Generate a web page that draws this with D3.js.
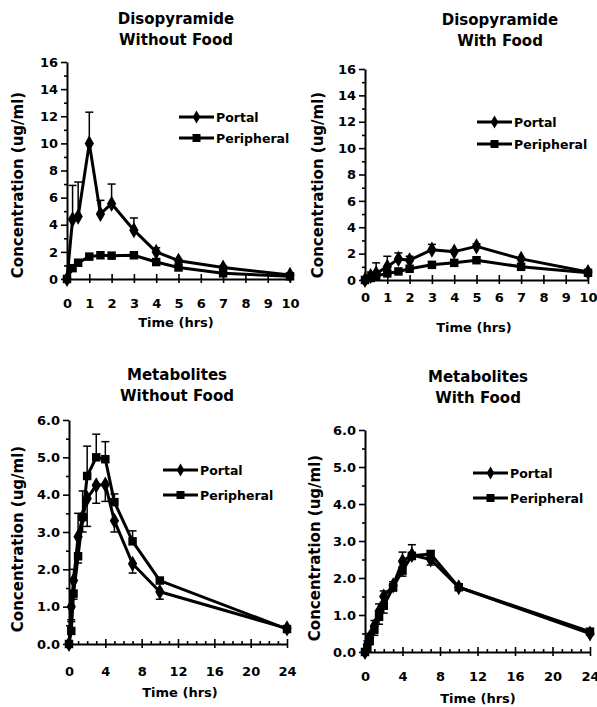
<!DOCTYPE html>
<html>
<head>
<meta charset="utf-8">
<script src="https://cdn.jsdelivr.net/npm/d3@7"></script>
<style>
  html, body { margin: 0; padding: 0; background: #fff; }
  svg { display: block; }
  text { font-family: "DejaVu Sans", "Liberation Sans", Arial, sans-serif; font-weight: bold; fill: #000; }
</style>
</head>
<body>
<svg id="chart" width="597" height="707"></svg>
<script>
// ---------------- DATA ----------------
const disoTimes = [0, 0.25, 0.5, 1, 1.5, 2, 3, 4, 5, 7, 10];
const metaTimes = [0, 0.25, 0.5, 1, 1.5, 2, 3, 4, 5, 7, 10, 24];

// Disopyramide without food
const disoNoFoodPortal     = [0, 4.4, 4.6, 10.0, 4.8, 5.55, 3.6, 2.0, 1.35, 0.85, 0.3];
const disoNoFoodPortalErr  = [0, 2.5, 2.55, 2.3, 1.0, 1.45, 0.9, 0.3, 0.1, 0.1, 0.05];
const disoNoFoodPeriph     = [0, 0.8, 1.2, 1.65, 1.75, 1.72, 1.75, 1.25, 0.85, 0.42, 0.2];
const disoNoFoodPeriphErr  = [0, 0, 0, 0, 0, 0, 0, 0, 0, 0, 0];

// Disopyramide with food
const disoFoodPortal       = [0, 0.3, 0.5, 1.0, 1.6, 1.5, 2.3, 2.15, 2.55, 1.6, 0.6];
const disoFoodPortalErr    = [0, 0.3, 0.8, 0.8, 0.45, 0.3, 0.4, 0.15, 0.2, 0.1, 0.05];
const disoFoodPeriph       = [0, 0.15, 0.3, 0.5, 0.65, 0.85, 1.15, 1.3, 1.5, 1.0, 0.55];
const disoFoodPeriphErr    = [0, 0, 0, 0, 0, 0, 0, 0, 0, 0, 0];

// Metabolites without food (negative error = drawn downward)
const metaNoFoodPortal     = [0, 1.0, 1.7, 2.87, 3.4, 3.9, 4.25, 4.27, 3.3, 2.15, 1.4, 0.42];
const metaNoFoodPortalErr  = [0, -0.4, -0.5, -0.7, -0.4, -0.75, -0.48, -0.45, -0.3, -0.25, -0.2, 0];
const metaNoFoodPeriph     = [0, 0.35, 1.35, 2.35, 3.4, 4.5, 5.0, 4.95, 3.8, 2.75, 1.7, 0.4];
const metaNoFoodPeriphErr  = [0, 0.3, 0.65, 1.15, 0.7, 0.8, 0.62, 0.47, 0.22, 0.28, 0.05, 0];

// Metabolites with food
const metaFoodPortal       = [0, 0.2, 0.4, 0.7, 1.1, 1.5, 1.8, 2.45, 2.62, 2.5, 1.75, 0.5];
const metaFoodPortalErr    = [0, 0.1, 0.1, 0.15, 0.2, 0.15, 0.1, 0.25, 0.28, 0, 0, 0];
const metaFoodPeriph       = [0, 0.1, 0.3, 0.6, 0.95, 1.25, 1.75, 2.2, 2.6, 2.65, 1.75, 0.55];
const metaFoodPeriphErr    = [0, 0, -0.1, -0.15, -0.2, -0.2, -0.1, -0.15, -0.1, -0.3, 0, 0];

// Tick values
const disoXTicks = [0, 1, 2, 3, 4, 5, 6, 7, 8, 9, 10];
const disoYTicks = [0, 2, 4, 6, 8, 10, 12, 14, 16];
const disoYMinor = [1, 3, 5, 7, 9, 11, 13, 15];
const metaXTicks = [0, 4, 8, 12, 16, 20, 24];
const metaXMinor = d3.range(0, 25, 1);
const metaYTicks = [0, 1, 2, 3, 4, 5, 6];
const metaYMinor = [0.5, 1.5, 2.5, 3.5, 4.5, 5.5];

const seriesNames = ["Portal", "Peripheral"];

// ---------------- LAYOUT ----------------
const panels = [
  { title: ["Disopyramide", "Without Food"], titleX: 176, titleY: [19, 40],
    x0: 67, x1: 290, y0: 279, y1: 62, xMax: 10, yMax: 16,
    xTicks: disoXTicks, xMinor: [], yTicks: disoYTicks, yMinor: disoYMinor, yFmt: d3.format("d"),
    times: disoTimes,
    portal: disoNoFoodPortal, portalErr: disoNoFoodPortalErr,
    periph: disoNoFoodPeriph, periphErr: disoNoFoodPeriphErr,
    legX: 179, legY: [117, 138], ylabX: 18, ylabY: 185, xlabY: 322, xlabX: 176, xTickY: 303 },
  { title: ["Disopyramide", "With Food"], titleX: 500, titleY: [20, 41],
    x0: 365, x1: 588, y0: 280, y1: 69, xMax: 10, yMax: 16,
    xTicks: disoXTicks, xMinor: [], yTicks: disoYTicks, yMinor: disoYMinor, yFmt: d3.format("d"),
    times: disoTimes,
    portal: disoFoodPortal, portalErr: disoFoodPortalErr,
    periph: disoFoodPeriph, periphErr: disoFoodPeriphErr,
    legX: 477, legY: [122, 144], ylabX: 318, ylabY: 185, xlabY: 327, xlabX: 474, xTickY: 297 },
  { title: ["Metabolites", "Without Food"], titleX: 177, titleY: [375, 396],
    x0: 69, x1: 287, y0: 644, y1: 420, xMax: 24, yMax: 6,
    xTicks: metaXTicks, xMinor: metaXMinor, yTicks: metaYTicks, yMinor: metaYMinor, yFmt: d3.format(".1f"),
    times: metaTimes,
    portal: metaNoFoodPortal, portalErr: metaNoFoodPortalErr,
    periph: metaNoFoodPeriph, periphErr: metaNoFoodPeriphErr,
    legX: 163, legY: [470, 495], ylabX: 18, ylabY: 539, xlabY: 692, xlabX: 180, xTickY: 671 },
  { title: ["Metabolites", "With Food"], titleX: 478, titleY: [377, 398],
    x0: 365, x1: 590, y0: 652, y1: 430, xMax: 24, yMax: 6,
    xTicks: metaXTicks, xMinor: metaXMinor, yTicks: metaYTicks, yMinor: metaYMinor, yFmt: d3.format(".1f"),
    times: metaTimes,
    portal: metaFoodPortal, portalErr: metaFoodPortalErr,
    periph: metaFoodPeriph, periphErr: metaFoodPeriphErr,
    legX: 473, legY: [473, 498], ylabX: 315, ylabY: 548, xlabY: 698, xlabX: 478, xTickY: 676 }
];

const svg = d3.select("#chart");

const diamond = d3.symbol().type(d3.symbolDiamond);
const square = d3.symbol().type(d3.symbolSquare);

function styleAxis(g) {
  g.selectAll("path.domain").attr("stroke", "#000").attr("stroke-width", 2);
  g.selectAll(".tick line").attr("stroke", "#000").attr("stroke-width", 1.6);
  g.selectAll("text").style("font-family", '"DejaVu Sans", Arial, sans-serif')
    .style("font-weight", "bold").style("font-size", "13px").attr("fill", "#000");
}

panels.forEach(p => {
  const g = svg.append("g");
  const x = d3.scaleLinear().domain([0, p.xMax]).range([p.x0, p.x1]);
  const y = d3.scaleLinear().domain([0, p.yMax]).range([p.y0, p.y1]);

  // Titles
  p.title.forEach((t, i) => {
    g.append("text").attr("x", p.titleX).attr("y", p.titleY[i])
      .attr("text-anchor", "middle").attr("dominant-baseline", "central")
      .style("font-size", "15px").text(t);
  });

  // Y axis (major)
  const yAx = g.append("g").attr("transform", `translate(${p.x0},0)`)
    .call(d3.axisLeft(y).tickValues(p.yTicks).tickFormat(p.yFmt).tickSize(6).tickSizeOuter(0).tickPadding(3));
  styleAxis(yAx);
  // Y minor
  const yMin = g.append("g").attr("transform", `translate(${p.x0},0)`)
    .call(d3.axisLeft(y).tickValues(p.yMinor).tickFormat("").tickSize(3).tickSizeOuter(0));
  styleAxis(yMin);
  yMin.select("path.domain").remove();

  // X axis (major, labels)
  const xAx = g.append("g").attr("transform", `translate(0,${p.y0})`)
    .call(d3.axisBottom(x).tickValues(p.xTicks).tickFormat(d3.format("d")).tickSize(4).tickSizeOuter(0).tickPadding(0));
  styleAxis(xAx);
  xAx.selectAll(".tick text").attr("y", p.xTickY - p.y0).attr("dy", "0").attr("dominant-baseline", "central");
  // upward part of major ticks
  const xUp = g.append("g").attr("transform", `translate(0,${p.y0})`)
    .call(d3.axisTop(x).tickValues(p.xTicks).tickFormat("").tickSize(5).tickSizeOuter(0));
  styleAxis(xUp);
  xUp.select("path.domain").remove();
  if (p.xMinor.length) {
    const xm = g.append("g").attr("transform", `translate(0,${p.y0})`)
      .call(d3.axisTop(x).tickValues(p.xMinor.filter(v => !p.xTicks.includes(v))).tickFormat("").tickSize(3).tickSizeOuter(0));
    styleAxis(xm);
    xm.select("path.domain").remove();
  }

  // Axis labels
  g.append("text").attr("x", p.xlabX).attr("y", p.xlabY)
    .attr("text-anchor", "middle").attr("dominant-baseline", "central")
    .style("font-size", "13px").text("Time (hrs)");
  g.append("text").attr("transform", `translate(${p.ylabX},${p.ylabY}) rotate(-90)`)
    .attr("text-anchor", "middle").attr("dominant-baseline", "central")
    .style("font-size", "15px").text("Concentration (ug/ml)");

  // Series
  const series = [
    { name: seriesNames[0], vals: p.portal, err: p.portalErr, sym: diamond, size: 75 },
    { name: seriesNames[1], vals: p.periph, err: p.periphErr, sym: square, size: 72 }
  ];
  const line = d3.line().x(d => x(d[0])).y(d => y(d[1]));

  series.forEach(s => {
    const pts = p.times.map((t, i) => [t, s.vals[i], s.err[i]]);
    // error bars
    const eb = g.append("g");
    pts.filter(d => d[2] !== 0).forEach(d => {
      const yEnd = y(d[1] + d[2]);
      eb.append("line").attr("x1", x(d[0])).attr("x2", x(d[0]))
        .attr("y1", y(d[1])).attr("y2", yEnd).attr("stroke", "#000").attr("stroke-width", 1.5);
      eb.append("line").attr("x1", x(d[0]) - 4).attr("x2", x(d[0]) + 4)
        .attr("y1", yEnd).attr("y2", yEnd).attr("stroke", "#000").attr("stroke-width", 1.5);
    });
    g.append("path").datum(pts).attr("d", line)
      .attr("fill", "none").attr("stroke", "#000").attr("stroke-width", 3).attr("stroke-linejoin", "round");
    g.selectAll(null).data(pts).enter().append("path")
      .attr("transform", d => `translate(${x(d[0])},${y(d[1])})`)
      .attr("d", s.sym.size(s.size)).attr("fill", "#000");
  });

  // Legend
  series.forEach((s, i) => {
    const ly = p.legY[i];
    g.append("line").attr("x1", p.legX).attr("x2", p.legX + 35).attr("y1", ly).attr("y2", ly)
      .attr("stroke", "#000").attr("stroke-width", 3);
    g.append("path").attr("transform", `translate(${p.legX + 17.5},${ly})`)
      .attr("d", s.sym.size(i === 0 ? 50 : 64)).attr("fill", "#000");
    g.append("text").attr("x", p.legX + 37).attr("y", ly)
      .attr("dominant-baseline", "central").style("font-size", "12.5px").text(s.name);
  });
});
</script>
</body>
</html>
